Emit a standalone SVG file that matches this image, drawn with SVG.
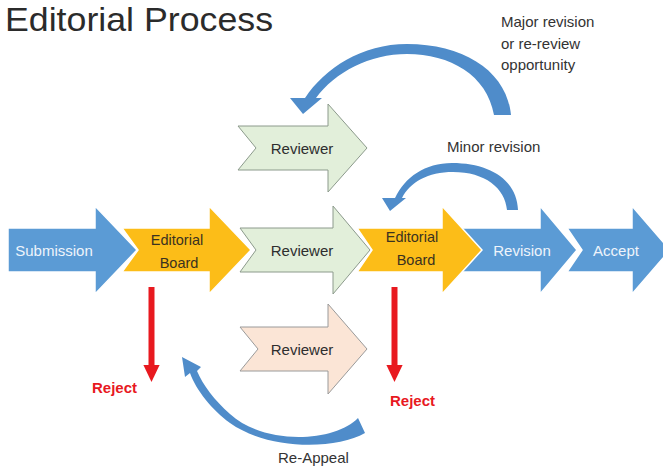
<svg xmlns="http://www.w3.org/2000/svg" width="663" height="466" viewBox="0 0 663 466">
<defs>
<style>
.blue{fill:#5b9bd5;stroke:#ffffff;stroke-width:1.5}
.gold{fill:#fcbd18;stroke:#ffffff;stroke-width:1.5}
.rev{fill:#e2efda;stroke:#8c9a8c;stroke-width:1}
.revp{fill:#fbe5d6;stroke:#9a9a9a;stroke-width:1}
.curve{fill:#4f8cca}
.t{font-family:"Liberation Sans",Arial,sans-serif;font-size:15px;text-anchor:middle}
.tw{fill:#eef4fb}
.td{fill:#2e2e2e}
.tg{fill:#3a3220;font-size:14.5px}
.lbl{font-family:"Liberation Sans",Arial,sans-serif;font-size:15px;fill:#333333}
.rej{font-family:"Liberation Sans",Arial,sans-serif;font-size:15px;font-weight:bold;fill:#e8191f}
.red{stroke:#e8191f;stroke-width:6;fill:none}
</style>
<marker id="redhead" markerUnits="userSpaceOnUse" markerWidth="18" markerHeight="20" refX="0" refY="9" orient="auto" viewBox="0 0 20 18">
<path d="M0,0 L19,9 L0,18 Z" fill="#e8191f"/>
</marker>
</defs>
<rect width="663" height="466" fill="#ffffff"/>
<text x="5" y="31" font-family="Liberation Sans,Arial,sans-serif" font-size="34" fill="#2b2b2b" textLength="268" lengthAdjust="spacingAndGlyphs">Editorial Process</text>

<g id="revision">
<polygon class="blue" points="460,228 540,228 540,206 577,250 540,294 540,272 460,272"/>
<text class="t tw" x="522" y="256">Revision</text>
</g>
<g id="accept">
<polygon class="blue" points="567,228 632,228 632,206 670,250 632,294 632,272 567,272 582,250"/>
<text class="t tw" x="616" y="256">Accept</text>
</g>
<g id="reviewer-mid">
<polygon class="rev" points="240,228 333,228 333,206 370,250 333,294 333,272 240,272 256,250"/>
<text class="t td" x="302" y="256">Reviewer</text>
</g>
<g id="editorial-board-2">
<polygon class="gold" points="357,228 442,228 442,206 482,250 442,294 442,272 357,272 372,250"/>
<text class="t tg" x="412" y="242">Editorial</text>
<text class="t tg" x="416" y="265">Board</text>
</g>
<g id="submission">
<polygon class="blue" points="8,228 95,228 95,206 137,250 95,294 95,272 8,272"/>
<text class="t tw" x="54" y="256">Submission</text>
</g>
<g id="editorial-board-1">
<polygon class="gold" points="122,228 209,228 209,206 251,250 209,294 209,272 122,272 138,250"/>
<text class="t tg" x="177" y="245">Editorial</text>
<text class="t tg" x="179" y="268">Board</text>
</g>
<g id="reviewer-top">
<polygon class="rev" points="238,126 328,126 328,104 367,148 328,192 328,170 238,170 256,148"/>
<text class="t td" x="302" y="154">Reviewer</text>
</g>
<g id="reviewer-bottom">
<polygon class="revp" points="240,327 328,327 328,304 367,349 328,394 328,371 240,371 258,349"/>
<text class="t td" x="302" y="355">Reviewer</text>
</g>

<g id="connectors">
<path class="curve" d="M511,115 C507,72 465,44 407,44 C362,44 325,68 305,98 L290,98 L303,114 L322,98 L316,98 C335,72 370,54 407,54 C450,54 487,75 494,115 Z"/>
<path class="curve" d="M518,210 C517,180 490,163 452,163 C425,163 405,177 395,198 L382,198 L390,211 L406,198 L402,198 C410,182 428,172 453,172 C485,172 505,188 507,210 Z"/>
<path class="curve" d="M358,418 C335,442 265,446 230,414 C214,400 203,385 197,371 L201,367 L182,357 L185,377 L190,373 C196,390 212,410 230,423 C268,450 335,450 365,433 Z"/>
<line class="red" x1="151.5" y1="287" x2="151.5" y2="365" marker-end="url(#redhead)"/>
<line class="red" x1="394.5" y1="287" x2="394.5" y2="365" marker-end="url(#redhead)"/>
</g>

<text class="lbl" x="501" y="27">Major revision</text>
<text class="lbl" x="501" y="49">or re-review</text>
<text class="lbl" x="501" y="70">opportunity</text>
<text class="lbl" x="447" y="152">Minor revision</text>
<text class="lbl" x="278" y="463">Re-Appeal</text>
<text class="rej" x="92" y="393">Reject</text>
<text class="rej" x="390" y="406">Reject</text>
</svg>
